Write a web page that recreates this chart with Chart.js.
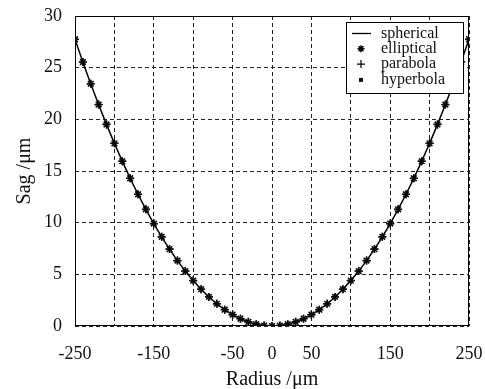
<!DOCTYPE html>
<html>
<head>
<meta charset="utf-8">
<script src="https://cdn.jsdelivr.net/npm/chart.js"></script>
<style>
  html, body { margin: 0; padding: 0; background: #fff; }
  #wrap { width: 485px; height: 389px; }
</style>
</head>
<body>
<div id="wrap"><canvas id="sagChart" width="485" height="389"></canvas></div>
<script>
// radius positions (um), one sample every 10 um
const radius = [-250, -240, -230, -220, -210, -200, -190, -180, -170, -160,
  -150, -140, -130, -120, -110, -100, -90, -80, -70, -60,
  -50, -40, -30, -20, -10, 0, 10, 20, 30, 40,
  50, 60, 70, 80, 90, 100, 110, 120, 130, 140,
  150, 160, 170, 180, 190, 200, 210, 220, 230, 240, 250];

// sag (um)
const sphericalSag = [27.75, 25.55, 23.44, 21.43, 19.51, 17.68, 15.95, 14.30, 12.75, 11.29,
  9.91, 8.63, 7.44, 6.33, 5.32, 4.40, 3.56, 2.81, 2.15, 1.58,
  1.10, 0.70, 0.40, 0.18, 0.04, 0.00, 0.04, 0.18, 0.40, 0.70,
  1.10, 1.58, 2.15, 2.81, 3.56, 4.40, 5.32, 6.33, 7.44, 8.63,
  9.91, 11.29, 12.75, 14.30, 15.95, 17.68, 19.51, 21.43, 23.44, 25.55, 27.75];
const ellipticalSag = sphericalSag.slice();
const parabolaSag = sphericalSag.slice();
const hyperbolaSag = sphericalSag.slice();

const seriesNames = ['spherical', 'elliptical', 'parabola', 'hyperbola'];
const xTickLabels = [-250, -150, -50, 0, 50, 150, 250];

const serif = 'Liberation Serif, Times New Roman, serif';

function toPoints(ys) {
  return radius.map((r, i) => ({ x: r, y: ys[i] }));
}

// solid frame around the plot
const framePlugin = {
  id: 'frame',
  afterDraw(chart) {
    const a = chart.chartArea;
    const ctx = chart.ctx;
    ctx.save();
    ctx.strokeStyle = '#000';
    ctx.lineWidth = 1;
    ctx.strokeRect(a.left + 0.5, a.top + 0.5, a.right - a.left - 1, a.bottom - a.top - 1);
    ctx.restore();
  }
};

// boxed legend in the upper right corner
const legendBox = {
  id: 'legendBox',
  afterDraw(chart) {
    const ctx = chart.ctx;
    const x = 346, y = 22, w = 117, h = 71;
    ctx.save();
    ctx.fillStyle = '#fff';
    ctx.fillRect(x, y, w, h);
    ctx.strokeStyle = '#000';
    ctx.lineWidth = 1;
    ctx.strokeRect(x + 0.5, y + 0.5, w, h);
    ctx.font = '16px ' + serif;
    ctx.textBaseline = 'middle';
    ctx.fillStyle = '#111';
    const cx = 361;
    seriesNames.forEach((name, i) => {
      const ly = 33.5 + i * 15.3;
      ctx.beginPath();
      if (i === 0) {
        ctx.lineWidth = 1.3;
        ctx.moveTo(352, ly); ctx.lineTo(371, ly);
        ctx.stroke();
      } else if (i === 1) {
        ctx.lineWidth = 1.5;
        for (let k = 0; k < 4; k++) {
          const ang = k * Math.PI / 4;
          ctx.moveTo(cx - 3.5 * Math.cos(ang), ly - 3.5 * Math.sin(ang));
          ctx.lineTo(cx + 3.5 * Math.cos(ang), ly + 3.5 * Math.sin(ang));
        }
        ctx.stroke();
      } else if (i === 2) {
        ctx.lineWidth = 1.2;
        ctx.moveTo(cx - 4, ly); ctx.lineTo(cx + 4, ly);
        ctx.moveTo(cx, ly - 4); ctx.lineTo(cx, ly + 4);
        ctx.stroke();
      } else {
        ctx.fillRect(cx - 2, ly - 1.5, 4, 4);
      }
      ctx.fillText(name, 381, ly);
    });
    ctx.restore();
  }
};

const dataSag = {
  datasets: [
    {
      label: seriesNames[0],
      data: toPoints(sphericalSag),
      borderColor: '#000',
      borderWidth: 1.5,
      pointRadius: 0,
      showLine: true,
      tension: 0.3,
    },
    {
      label: seriesNames[1],
      data: toPoints(ellipticalSag),
      borderColor: '#111',
      backgroundColor: '#111',
      pointStyle: 'star',
      pointRadius: 4,
      pointBorderWidth: 1.6,
      showLine: false,
    },
    {
      label: seriesNames[2],
      data: toPoints(parabolaSag),
      borderColor: '#111',
      pointStyle: 'cross',
      pointRadius: 4,
      pointBorderWidth: 1.2,
      showLine: false,
    },
    {
      label: seriesNames[3],
      data: toPoints(hyperbolaSag),
      borderColor: '#111',
      backgroundColor: '#111',
      pointStyle: 'rect',
      pointRadius: 2,
      pointBorderWidth: 0,
      showLine: false,
    },
  ],
};

const configSag = {
  type: 'scatter',
  data: dataSag,
  options: {
    responsive: false,
    animation: false,
    layout: { padding: { top: 16, right: 16, left: 0, bottom: 0 } },
    plugins: {
      legend: { display: false },
      tooltip: { enabled: false },
    },
    scales: {
      x: {
        type: 'linear',
        min: -250,
        max: 250,
        grid: { color: '#222', lineWidth: 1, drawTicks: false },
        border: { display: false, dash: [4, 3] },
        ticks: {
          stepSize: 50,
          padding: 17,
          color: '#111',
          font: { family: serif, size: 18 },
          maxRotation: 0,
          autoSkip: false,
          callback: function (value) {
            return xTickLabels.includes(value) ? String(value) : '';
          },
        },
        title: {
          display: true,
          text: 'Radius /μm',
          color: '#111',
          font: { family: serif, size: 20 },
          padding: { top: 0, bottom: -3 },
        },
        afterFit: function (scale) {
          scale.height = 63;
          scale.paddingLeft = 0;
          scale.paddingRight = 0;
        },
      },
      y: {
        type: 'linear',
        min: 0,
        max: 30,
        grid: { color: '#222', lineWidth: 1, drawTicks: false },
        border: { display: false, dash: [4, 3] },
        ticks: {
          stepSize: 5,
          padding: 13,
          color: '#111',
          font: { family: serif, size: 18 },
        },
        title: {
          display: true,
          text: 'Sag /μm',
          color: '#111',
          font: { family: serif, size: 20 },
          padding: { top: 13, bottom: 0 },
        },
        afterFit: function (scale) {
          scale.width = 75;
          scale.paddingTop = 0;
          scale.paddingBottom = 0;
        },
      },
    },
  },
  plugins: [framePlugin, legendBox],
};

var chartSag = new Chart(document.getElementById('sagChart'), configSag);
</script>
</body>
</html>
